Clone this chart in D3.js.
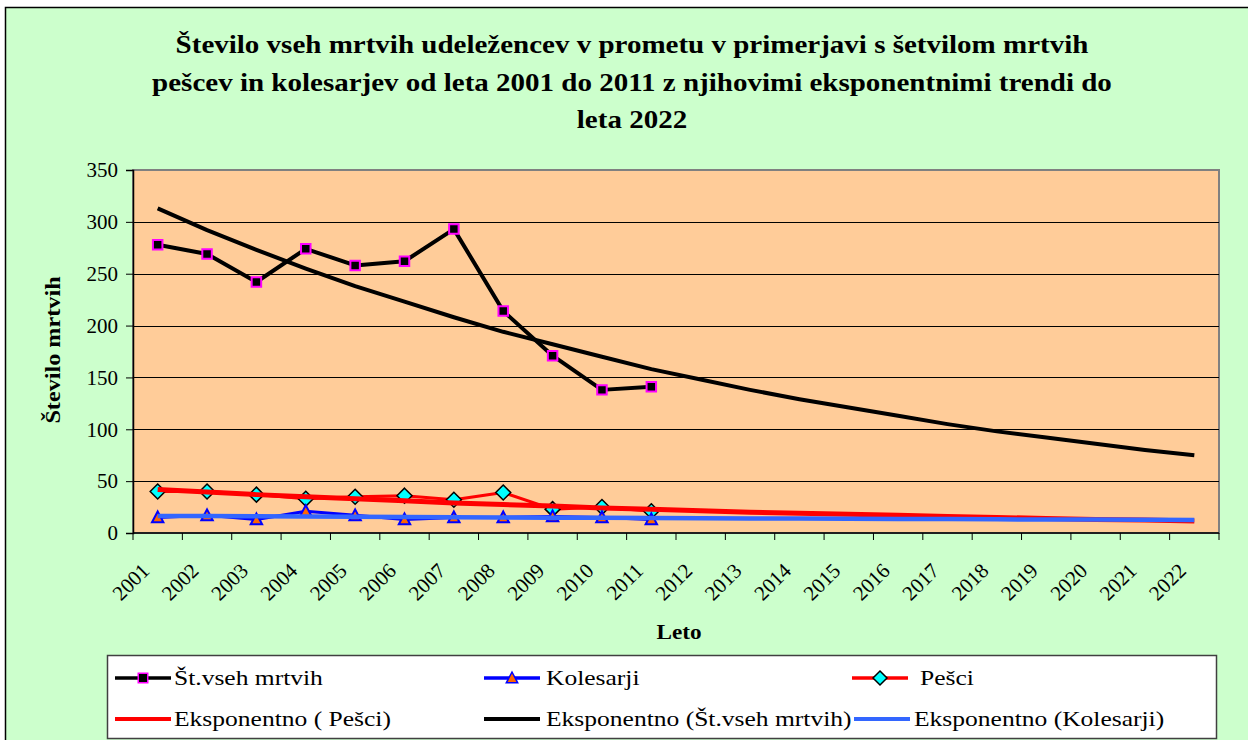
<!DOCTYPE html>
<html>
<head>
<meta charset="utf-8">
<script src="https://cdn.jsdelivr.net/npm/d3@7"></script>
<style>
  body { margin: 0; background: #fff; }
  svg { display: block; }
  text { font-family: "Liberation Serif", "Times New Roman", serif; fill: #000; }
</style>
</head>
<body>
<div id="chart"></div>
<script>
var years = ['2001','2002','2003','2004','2005','2006','2007','2008','2009','2010','2011',
             '2012','2013','2014','2015','2016','2017','2018','2019','2020','2021','2022'];
var measuredYears = years.slice(0, 11);

var allDeaths   = [278, 269, 242, 274, 258, 262, 293, 214, 171, 138, 141];
var cyclists    = [15, 17, 13, 21, 17, 13, 15, 15, 16, 15, 13];
var pedestrians = [40, 40, 37, 33, 35, 36, 32, 39, 23, 25, 21];

// exponential trends as drawn, 2001..2022
var allTrend = [313, 292, 273, 255, 238, 223, 208, 194, 182, 170, 158,
                148, 138, 129, 121, 113, 105, 98, 92, 86, 80, 75];
var pedTrend = [42, 39.5, 37, 35, 33, 31, 29, 27.5, 26, 24, 23,
                21.5, 20, 19, 18, 17, 16, 15, 14, 13, 12.5, 11.6];
var cycTrend = [16.5, 16.3, 16.1, 15.9, 15.6, 15.4, 15.2, 15.0, 14.8, 14.7, 14.5,
                14.3, 14.1, 13.9, 13.7, 13.6, 13.4, 13.2, 13.0, 12.9, 12.7, 12.6];

var yTicks = [0, 50, 100, 150, 200, 250, 300, 350];

var titleLines = [
  'Število vseh mrtvih udeležencev v prometu v primerjavi s šetvilom mrtvih',
  'pešcev in kolesarjev od leta 2001 do 2011 z njihovimi eksponentnimi trendi do',
  'leta 2022'
];

var width = 1248, height = 740;
var plot = {left: 133, right: 1219, top: 170, bottom: 533};
var stretchK = 1.16;

var svg = d3.select('#chart').append('svg')
    .attr('width', width)
    .attr('height', height);

// chart area
svg.append('rect')
    .attr('x', 5.5).attr('y', 7.5)
    .attr('width', 1260).attr('height', 760)
    .style('fill', '#ccffcc')
    .style('stroke', '#000')
    .style('stroke-width', 1.5);

function stretch(sel, k) {
  sel.each(function () {
    var l = this.getComputedTextLength();
    d3.select(this).attr('textLength', l * k).attr('lengthAdjust', 'spacingAndGlyphs');
  });
}

svg.selectAll('.title').data(titleLines)
  .enter().append('text')
    .attr('class', 'title')
    .attr('x', 632)
    .attr('y', function (d, i) { return 53 + i * 37.5; })
    .attr('text-anchor', 'middle')
    .style('font-size', '25px')
    .style('font-weight', 'bold')
    .text(function (d) { return d; })
    .call(stretch, stretchK);

var x = d3.scaleBand().domain(years).range([plot.left, plot.right]);
var y = d3.scaleLinear().domain([0, 350]).range([plot.bottom, plot.top]);
var cx = function (yr) { return x(yr) + x.bandwidth() / 2; };

// plot area
svg.append('rect')
    .attr('x', plot.left).attr('y', plot.top)
    .attr('width', plot.right - plot.left).attr('height', plot.bottom - plot.top)
    .style('fill', '#ffcc99')
    .style('stroke', '#808080')
    .style('stroke-width', 2);

svg.append('g').selectAll('line').data(yTicks.slice(1, -1))
  .enter().append('line')
    .attr('x1', plot.left).attr('x2', plot.right)
    .attr('y1', function (d) { return Math.round(y(d)) + 0.5; })
    .attr('y2', function (d) { return Math.round(y(d)) + 0.5; })
    .style('stroke', '#000')
    .style('stroke-width', 1);

// y axis
var yAxis = svg.append('g')
    .attr('transform', 'translate(' + plot.left + ',0)')
    .call(d3.axisLeft(y).tickValues(yTicks).tickSize(7).tickPadding(8));
yAxis.select('.domain').style('stroke', '#000').style('stroke-width', 1.5);
yAxis.selectAll('text').style('font-size', '21px').style('font-family', '"Liberation Serif", serif');

// x axis: ticks between categories like Excel
var xAxis = svg.append('g');
xAxis.append('line')
    .attr('x1', plot.left).attr('x2', plot.right)
    .attr('y1', plot.bottom).attr('y2', plot.bottom)
    .style('stroke', '#000').style('stroke-width', 1.5);
xAxis.selectAll('.tick').data(years.concat(['end']))
  .enter().append('line')
    .attr('x1', function (d) { return d === 'end' ? plot.right : x(d); })
    .attr('x2', function (d) { return d === 'end' ? plot.right : x(d); })
    .attr('y1', plot.bottom).attr('y2', plot.bottom + 7)
    .style('stroke', '#000').style('stroke-width', 1);
xAxis.selectAll('.lbl').data(years)
  .enter().append('text')
    .attr('transform', function (d) { return 'translate(' + (cx(d) - 7) + ',572) rotate(-45)'; })
    .attr('text-anchor', 'end')
    .style('font-size', '21px')
    .text(function (d) { return d; });

svg.append('text')
    .attr('x', 679).attr('y', 639)
    .attr('text-anchor', 'middle')
    .style('font-size', '20px').style('font-weight', 'bold')
    .text('Leto')
    .call(stretch, stretchK);

svg.append('text')
    .attr('transform', 'translate(60,350) rotate(-90)')
    .attr('text-anchor', 'middle')
    .style('font-size', '22px').style('font-weight', 'bold')
    .text('Število mrtvih')
    .call(stretch, 1.1);

// series
var line = d3.line()
    .x(function (d) { return cx(d[0]); })
    .y(function (d) { return y(d[1]); });
function pairs(cats, vals) { return cats.map(function (c, i) { return [c, vals[i]]; }); }

function drawLine(cats, vals, color, w) {
  svg.append('path')
    .datum(pairs(cats, vals))
    .attr('d', line)
    .style('fill', 'none')
    .style('stroke', color)
    .style('stroke-width', w)
    .style('stroke-linejoin', 'round');
}

var square = d3.symbol().type(d3.symbolSquare).size(90);
var diamond = function (s) { return 'M0,' + (-s) + 'L' + s + ',0L0,' + s + 'L' + (-s) + ',0Z'; };
var triangle = function (s) { return 'M0,' + (-s) + 'L' + (s * 0.95) + ',' + (s * 0.8) + 'L' + (-s * 0.95) + ',' + (s * 0.8) + 'Z'; };

function drawMarkers(cats, vals, path, fill, stroke, sw) {
  svg.append('g').selectAll('path').data(pairs(cats, vals))
    .enter().append('path')
      .attr('transform', function (d) { return 'translate(' + cx(d[0]) + ',' + y(d[1]) + ')'; })
      .attr('d', path)
      .style('fill', fill)
      .style('stroke', stroke)
      .style('stroke-width', sw);
}

drawLine(measuredYears, allDeaths, '#000', 4);
drawLine(measuredYears, cyclists, '#0000ff', 3);
drawLine(measuredYears, pedestrians, '#ff0000', 3);

drawMarkers(measuredYears, allDeaths, square(), '#000', '#ff00ff', 2);
drawMarkers(measuredYears, pedestrians, diamond(7.5), '#00ffff', '#000', 1.5);

drawLine(years, allTrend, '#000', 4);
drawLine(years, pedTrend, '#ff0000', 5);
drawMarkers(measuredYears, cyclists, triangle(6), '#ff6600', '#0000ff', 2);
drawLine(years, cycTrend, '#3366ff', 4.5);

// legend
var legendItems = [
  {label: 'Št.vseh mrtvih', color: '#000', w: 3.5, marker: square(), mf: '#000', ms: '#ff00ff', x: 115, tx: 174, row: 0},
  {label: 'Kolesarji', color: '#0000ff', w: 3.5, marker: triangle(6), mf: '#ff6600', ms: '#0000ff', x: 484, tx: 546, row: 0},
  {label: 'Pešci', color: '#ff0000', w: 3.5, marker: diamond(7), mf: '#00ffff', ms: '#000', x: 852, tx: 920, row: 0},
  {label: 'Eksponentno ( Pešci)', color: '#ff0000', w: 4, x: 115, tx: 174, row: 1},
  {label: 'Eksponentno (Št.vseh mrtvih)', color: '#000', w: 4, x: 484, tx: 546, row: 1},
  {label: 'Eksponentno (Kolesarji)', color: '#3366ff', w: 4, x: 854, tx: 914, row: 1}
];

svg.append('rect')
    .attr('x', 107.5).attr('y', 655.5)
    .attr('width', 1109).attr('height', 83)
    .style('fill', '#fff')
    .style('stroke', '#404040')
    .style('stroke-width', 1.5);

var li = svg.append('g').selectAll('g').data(legendItems)
  .enter().append('g')
    .attr('transform', function (d) { return 'translate(0,' + (d.row === 0 ? 678 : 719) + ')'; });
li.append('line')
    .attr('x1', function (d) { return d.x; })
    .attr('x2', function (d) { return d.x + 56; })
    .style('stroke', function (d) { return d.color; })
    .style('stroke-width', function (d) { return d.w; });
li.filter(function (d) { return d.marker; }).append('path')
    .attr('transform', function (d) { return 'translate(' + (d.x + 28) + ',0)'; })
    .attr('d', function (d) { return d.marker; })
    .style('fill', function (d) { return d.mf; })
    .style('stroke', function (d) { return d.ms; })
    .style('stroke-width', 1.5);
li.append('text')
    .attr('x', function (d) { return d.tx; })
    .attr('y', 7)
    .style('font-size', '22px')
    .text(function (d) { return d.label; })
    .call(stretch, stretchK);
</script>
</body>
</html>
